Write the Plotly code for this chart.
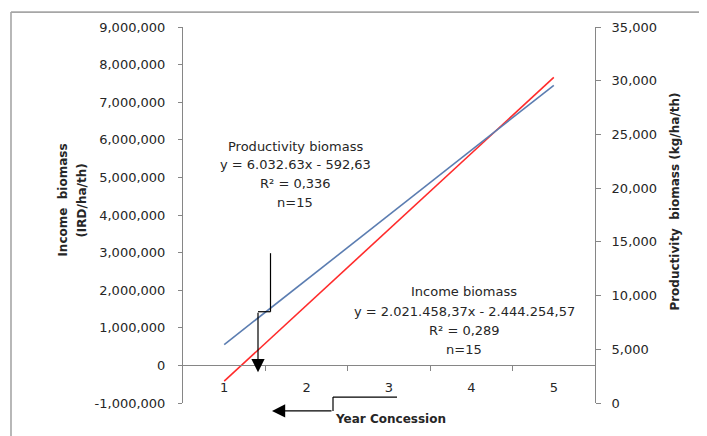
import plotly.graph_objects as go

# ---- data ----
years = [1, 2, 3, 4, 5]
year_labels = ["1", "2", "3", "4", "5"]
income_trend = [-420000, 1600000, 3620000, 5640000, 7660000]       # IRD/ha/th (left axis)
productivity_trend = [5440, 11470, 17510, 23540, 29570]            # kg/ha/th (right axis)
left_ticks = [-1000000, 0, 1000000, 2000000, 3000000, 4000000, 5000000, 6000000, 7000000, 8000000, 9000000]
left_tick_labels = ["-1,000,000", "0", "1,000,000", "2,000,000", "3,000,000", "4,000,000",
                    "5,000,000", "6,000,000", "7,000,000", "8,000,000", "9,000,000"]
right_ticks = [0, 5000, 10000, 15000, 20000, 25000, 30000, 35000]
right_tick_labels = ["0", "5,000", "10,000", "15,000", "20,000", "25,000", "30,000", "35,000"]
prod_label = ["Productivity biomass", "y = 6.032.63x - 592,63", "R² = 0,336", "n=15"]
income_label = ["Income biomass", "y = 2.021.458,37x - 2.444.254,57", "R² = 0,289", "n=15"]

# page has an 8px body margin: the figure starts at (8, 8) of the window
OFF = 8
W, H = 707 - OFF, 436 - OFF
# plot area in window pixels
L, R, T, B = 183, 595, 24, 403
PW, PH = R - L, B - T

def px(x):
    return (x - L) / PW

def py(y):
    return (B - y) / PH

FONT = "DejaVu Sans"
TXT = "#262626"
AX = "#868686"

fig = go.Figure()
fig.add_trace(go.Scatter(x=years, y=income_trend, mode="lines",
                         line=dict(color="#FF2B2B", width=1.6), yaxis="y", showlegend=False))
fig.add_trace(go.Scatter(x=years, y=productivity_trend, mode="lines",
                         line=dict(color="#5B7DB1", width=1.6), yaxis="y2", showlegend=False))

ymin, ymax = left_ticks[0], left_ticks[-1]
zero_pos = (0 - ymin) / (ymax - ymin)
bounds = [v + 0.5 for v in years[:-1]]

fig.update_layout(
    width=W, height=H, autosize=False,
    margin=dict(l=L - OFF, r=707 - R, t=T - OFF, b=436 - B),
    paper_bgcolor="white", plot_bgcolor="white",
    font=dict(family=FONT, size=13, color=TXT),
    xaxis=dict(range=[years[0] - 0.5, years[-1] + 0.5], anchor="free", position=zero_pos,
               showline=True, linecolor=AX, linewidth=1, showgrid=False, zeroline=False,
               tickmode="array", tickvals=years, ticktext=year_labels, ticks="",
               ticklabelstandoff=10,
               minor=dict(tickmode="array", tickvals=bounds, ticks="outside", ticklen=5,
                          tickcolor=AX, showgrid=False),
               tickfont=dict(family=FONT, size=13, color=TXT)),
    yaxis=dict(range=[ymin, ymax], tickmode="array", tickvals=left_ticks, ticktext=left_tick_labels,
               showline=True, linecolor=AX, linewidth=1, showgrid=False, zeroline=False,
               ticks="outside", ticklen=4, tickcolor=AX, ticklabelstandoff=10,
               tickfont=dict(family=FONT, size=13, color=TXT)),
    yaxis2=dict(range=[right_ticks[0], right_ticks[-1]], overlaying="y", side="right",
                tickmode="array", tickvals=right_ticks, ticktext=right_tick_labels,
                showline=True, linecolor=AX, linewidth=1, showgrid=False, zeroline=False,
                ticks="outside", ticklen=5, tickcolor=AX, ticklabelstandoff=8,
                tickfont=dict(family=FONT, size=13, color=TXT)),
)

annotations = []
# regression text blocks
for i, t in enumerate(prod_label):
    annotations.append(dict(x=px(295), y=py(144 + 19 * i), xref="paper", yref="paper",
                            text=t, showarrow=False, xanchor="center", yanchor="middle",
                            font=dict(family=FONT, size=13, color=TXT)))
for i, t in enumerate(income_label):
    annotations.append(dict(x=px(464), y=py(291 + 19.3 * i), xref="paper", yref="paper",
                            text=t, showarrow=False, xanchor="center", yanchor="middle",
                            font=dict(family=FONT, size=13, color=TXT)))
# axis titles
annotations.append(dict(x=px(63), y=py(199), xref="paper", yref="paper", text="<b>Income  biomass</b>",
                        textangle=-90, showarrow=False, xanchor="center", yanchor="middle",
                        font=dict(family=FONT, size=12, color=TXT)))
annotations.append(dict(x=px(82), y=py(199), xref="paper", yref="paper", text="<b>(IRD/ha/th)</b>",
                        textangle=-90, showarrow=False, xanchor="center", yanchor="middle",
                        font=dict(family=FONT, size=12, color=TXT)))
annotations.append(dict(x=px(675), y=py(200), xref="paper", yref="paper",
                        text="<b>Productivity  biomass (kg/ha/th)</b>",
                        textangle=-90, showarrow=False, xanchor="center", yanchor="middle",
                        font=dict(family=FONT, size=12, color=TXT)))
annotations.append(dict(x=px(390), y=py(419), xref="paper", yref="paper", text="<b>Year Concession</b>",
                        showarrow=False, xanchor="center", yanchor="middle",
                        font=dict(family=FONT, size=12, color=TXT)))
# arrows
annotations.append(dict(x=px(258), y=py(372), xref="paper", yref="paper", text="",
                        showarrow=True, ax=0, ay=-61, axref="pixel", ayref="pixel",
                        arrowhead=2, arrowsize=2.2, arrowwidth=1.2, arrowcolor="black"))
annotations.append(dict(x=px(272), y=py(411), xref="paper", yref="paper", text="",
                        showarrow=True, ax=61, ay=0, axref="pixel", ayref="pixel",
                        arrowhead=2, arrowsize=2.2, arrowwidth=1.2, arrowcolor="black"))
fig.update_layout(annotations=annotations)

shapes = []
def seg(x0, y0, x1, y1, color="black", width=1.2):
    shapes.append(dict(type="line", xref="paper", yref="paper",
                       x0=px(x0), y0=py(y0), x1=px(x1), y1=py(y1),
                       line=dict(color=color, width=width)))
seg(270.5, 252, 270.5, 311)
seg(270.5, 311, 258, 311)
seg(397, 397, 333, 397)
seg(333, 397, 333, 411)
# outer frame
seg(11, 9, 11, 440, color="#A6A6A6", width=1.6)
seg(11, 9, 710, 9, color="#A6A6A6", width=1.6)
fig.update_layout(shapes=shapes)

fig.write_html("out.html")
